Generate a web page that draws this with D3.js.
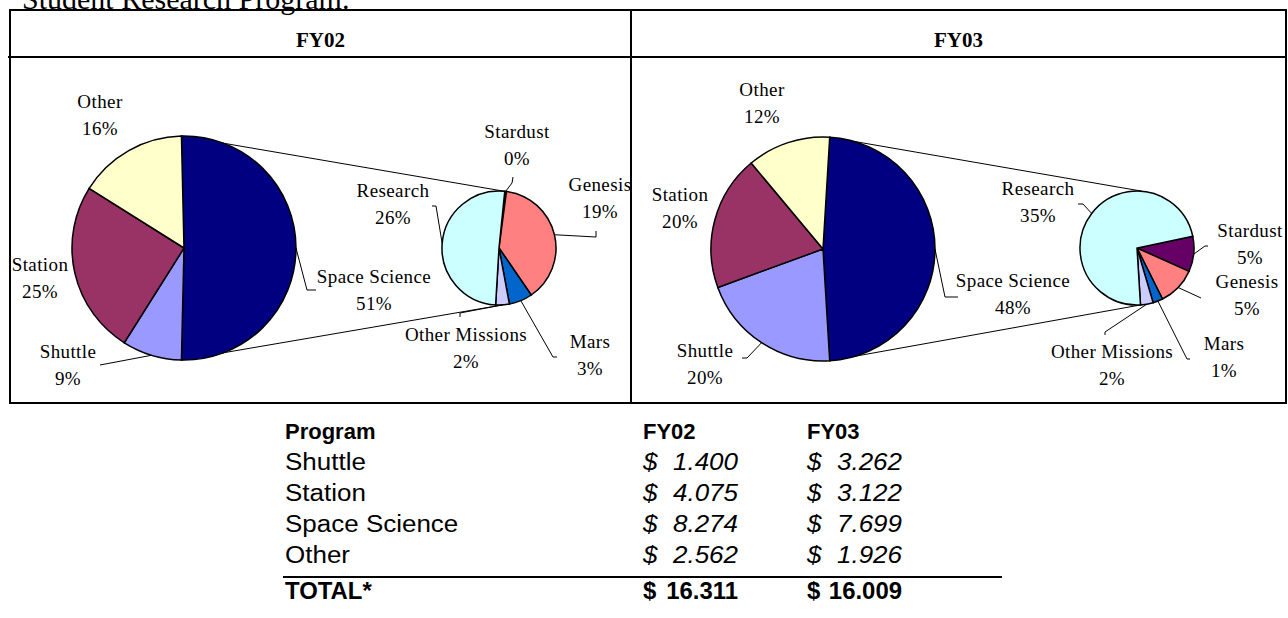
<!DOCTYPE html>
<html>
<head>
<meta charset="utf-8">
<style>
  body { margin: 0; background: #fff; }
  .lbl { font-family: "Liberation Serif", "Times New Roman", serif; font-size: 19px; letter-spacing: 0.4px; fill: #000; }
  .tbl { font-family: "Liberation Sans", Arial, sans-serif; font-size: 23px; fill: #000; }
</style>
</head>
<body>
<svg width="1288" height="618"></svg>
<script src="https://d3js.org/d3.v7.min.js"></script>
<script>

// ---- data ($ millions) ----
var programs = ["Space Science", "Shuttle", "Station", "Other"];
var fy02Values = [8.274, 1.400, 4.075, 2.562];
var fy03Values = [7.699, 3.262, 3.122, 1.926];

// space science broken out into missions
var missions = ["Stardust", "Genesis", "Mars", "Other Missions", "Research"];
var fy02Missions = [0.04, 3.17, 0.55, 0.32, 4.19];
var fy03Missions = [0.77, 0.84, 0.215, 0.277, 5.597];

// table below the charts
var tableRows = ["Shuttle", "Station", "Space Science", "Other"];
var tableFY02 = [1.400, 4.075, 8.274, 2.562];
var tableFY03 = [3.262, 3.122, 7.699, 1.926];

// excel's pie-of-pie palette
var colors = {
    "Space Science": "#000080", "Shuttle": "#9999ff", "Station": "#993366", "Other": "#ffffcc",
    "Stardust": "#660066", "Genesis": "#ff8080", "Mars": "#0066cc", "Other Missions": "#ccccff", "Research": "#ccffff"
};

// label placement (text centre, first baseline) and leader elbows
var fy02Labels = {
    "Other": {x: 100, y: 108},
    "Station": {x: 40, y: 271},
    "Shuttle": {x: 68, y: 358, knee: [[100, 365]]},
    "Space Science": {x: 374, y: 283, knee: [[307, 290], [316, 290]]},
    "Research": {x: 393, y: 197, knee: [[436, 206], [432, 206]]},
    "Stardust": {x: 517, y: 138, knee: [[512, 183], [513, 177]]},
    "Genesis": {x: 600, y: 191, knee: [[596, 237], [596, 231]]},
    "Mars": {x: 590, y: 348, knee: [[553, 357], [557, 357]]},
    "Other Missions": {x: 466, y: 341, knee: [[460, 313], [460, 317]]}
};
var fy03Labels = {
    "Other": {x: 762, y: 96},
    "Station": {x: 680, y: 201},
    "Shuttle": {x: 705, y: 357, knee: [[747, 358], [742, 358]]},
    "Space Science": {x: 1013, y: 287, knee: [[945, 297], [958, 297]]},
    "Research": {x: 1038, y: 195, knee: [[1083, 204], [1078, 204]]},
    "Stardust": {x: 1250, y: 237, knee: [[1205, 246], [1208, 246]]},
    "Genesis": {x: 1247, y: 288, knee: [[1201, 298]]},
    "Mars": {x: 1224, y: 350, knee: [[1187, 359], [1190, 359]]},
    "Other Missions": {x: 1112, y: 358, knee: [[1105, 332], [1105, 335]]}
};

var panels = [
    {title: "FY02", values: fy02Values, sub: fy02Missions, labels: fy02Labels,
     cx: 184, cy: 248, sx: 499, sy: 248, subStart: 5.8, headX: 320.5},
    {title: "FY03", values: fy03Values, sub: fy03Missions, labels: fy03Labels,
     cx: 823, cy: 249, sx: 1137, sy: 248, subStart: 78.2, headX: 958.5}
];

var bigR = 112, smallR = 57, lineGap = 26.5;
var rad = Math.PI / 180;

var svg = d3.select("svg");

// point on a circle, angle measured clockwise from 12 o'clock like d3.pie
function edge(cx, cy, r, a) {
    return [cx + r * Math.sin(a), cy - r * Math.cos(a)];
}

// cut-off page text above the box
svg.append("text")
    .attr("x", 22).attr("y", 9)
    .style("font-family", "Liberation Serif, serif").style("font-size", "30px")
    .text("Student Research Program.");

panels.forEach(function (p) {
    var total = d3.sum(p.values);
    var ssSpan = p.values[0] / total * 360;

    // big pie: space science centred on 3 o'clock
    var bigPie = d3.pie().sort(null)
        .startAngle((90 - ssSpan / 2) * rad)
        .endAngle((450 - ssSpan / 2) * rad);
    var bigArcs = bigPie(p.values);
    bigArcs.forEach(function (d, i) { d.name = programs[i]; });

    var smallPie = d3.pie().sort(null)
        .startAngle(p.subStart * rad)
        .endAngle((p.subStart + 360) * rad);
    var smallArcs = smallPie(p.sub);
    smallArcs.forEach(function (d, i) { d.name = missions[i]; });

    // connector lines between the pies
    var ss = bigArcs[0];
    [[ss.startAngle, 5 * rad], [ss.endAngle, 176 * rad]].forEach(function (pair) {
        var a = edge(p.cx, p.cy, bigR, pair[0]), b = edge(p.sx, p.sy, smallR, pair[1]);
        svg.append("line")
            .attr("x1", a[0]).attr("y1", a[1]).attr("x2", b[0]).attr("y2", b[1])
            .attr("stroke", "#000").attr("stroke-width", 1);
    });

    var bigArc = d3.arc().innerRadius(0).outerRadius(bigR);
    var smallArc = d3.arc().innerRadius(0).outerRadius(smallR);

    svg.append("g").attr("transform", "translate(" + p.cx + "," + p.cy + ")")
        .selectAll("path").data(bigArcs).enter().append("path")
        .attr("d", bigArc)
        .attr("fill", function (d) { return colors[d.name]; })
        .attr("stroke", "#000").attr("stroke-width", 1.5);

    svg.append("g").attr("transform", "translate(" + p.sx + "," + p.sy + ")")
        .selectAll("path").data(smallArcs).enter().append("path")
        .attr("d", smallArc)
        .attr("fill", function (d) { return colors[d.name]; })
        .attr("stroke", "#000").attr("stroke-width", 1.5);

    // labels + leader lines
    function addLabel(d, cx, cy, r) {
        var lay = p.labels[d.name];
        if (lay.knee) {
            var pts = [edge(cx, cy, r, (d.startAngle + d.endAngle) / 2)].concat(lay.knee);
            svg.append("path")
                .attr("d", d3.line()(pts))
                .attr("fill", "none").attr("stroke", "#000").attr("stroke-width", 1);
        }
        var pct = Math.round(d.value / total * 100) + "%";
        var t = svg.append("text").attr("class", "lbl").attr("text-anchor", "middle");
        t.append("tspan").attr("x", lay.x).attr("y", lay.y).text(d.name);
        t.append("tspan").attr("x", lay.x).attr("y", lay.y + lineGap).text(pct);
    }
    bigArcs.forEach(function (d) { addLabel(d, p.cx, p.cy, bigR); });
    smallArcs.forEach(function (d) { addLabel(d, p.sx, p.sy, smallR); });

    svg.append("text")
        .attr("x", p.headX).attr("y", 47).attr("text-anchor", "middle")
        .style("font-family", "Liberation Serif, serif").style("font-size", "21px").style("font-weight", "bold")
        .text(p.title);
});

// box around both charts
var frame = svg.append("g").attr("fill", "none").attr("stroke", "#000").attr("stroke-width", 2);
frame.append("rect").attr("x", 10).attr("y", 10).attr("width", 1276).attr("height", 393);
frame.append("line").attr("x1", 8).attr("x2", 1286).attr("y1", 57).attr("y2", 57);
frame.append("line").attr("x1", 631).attr("x2", 631).attr("y1", 10).attr("y2", 403);

// ---- funding table ----
var colProg = 285, col02 = 643, col03 = 807, numW = 95, stretch = 1.13;
var rowY = d3.scaleBand().domain(["head"].concat(tableRows)).range([416, 571]);
function base(k) { return rowY(k) + 23; }
var totalY = 599, ruleY = 577;

var tbl = svg.append("g").attr("class", "tbl");

// body text in the source is drawn a little wider than the header row
function cell(g, x, y, s, anchor, sx) {
    return g.append("text")
        .attr("transform", "translate(" + x + "," + y + ") scale(" + sx + ",1)")
        .attr("text-anchor", anchor || "start")
        .text(s);
}

var head = tbl.append("g").style("font-weight", "bold").style("font-size", "22px");
cell(head, colProg, base("head"), "Program", "start", 1);
cell(head, col02, base("head"), "FY02", "start", 1);
cell(head, col03, base("head"), "FY03", "start", 1);

function money(g, x, y, v, sx) {
    cell(g, x, y, "$", "start", sx);
    cell(g, x + numW, y, v.toFixed(3), "end", sx);
}

tableRows.forEach(function (name, i) {
    var y = base(name);
    cell(tbl, colProg, y, name, "start", stretch);
    var nums = tbl.append("g").style("font-style", "italic");
    money(nums, col02, y, tableFY02[i], stretch);
    money(nums, col03, y, tableFY03[i], stretch);
});

svg.append("line").attr("x1", 283).attr("x2", 1002).attr("y1", ruleY).attr("y2", ruleY)
    .attr("stroke", "#000").attr("stroke-width", 2);

var totalRow = tbl.append("g").style("font-weight", "bold");
cell(totalRow, colProg, totalY, "TOTAL*", "start", 1.04);
money(totalRow, col02, totalY, d3.sum(tableFY02), 1.04);
money(totalRow, col03, totalY, d3.sum(tableFY03), 1.04);

</script>
</body>
</html>
